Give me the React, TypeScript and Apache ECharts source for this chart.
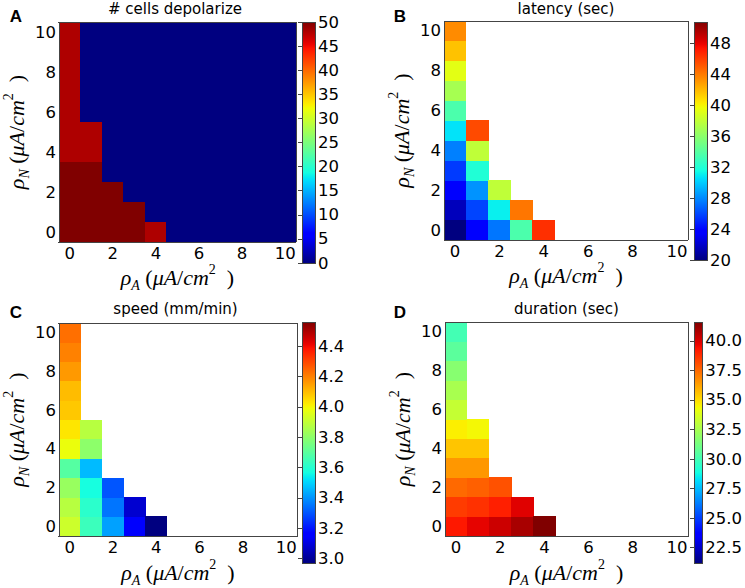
import React, { useEffect, useRef } from "react";
import * as echarts from "echarts";

// ---------- data (columns = rho_A 0..; values listed from rho_N = 0 upward) ----------
const axisCategories = ["0", "1", "2", "3", "4", "5", "6", "7", "8", "9", "10"];

const depolarizeCols: number[][] = [
  [50, 50, 50, 50, 48, 48, 48, 48, 48, 48, 48],
  [50, 50, 50, 50, 48, 48, 0, 0, 0, 0, 0],
  [50, 50, 50, 0, 0, 0, 0, 0, 0, 0, 0],
  [50, 50, 0, 0, 0, 0, 0, 0, 0, 0, 0],
  [48, 0, 0, 0, 0, 0, 0, 0, 0, 0, 0],
  [0, 0, 0, 0, 0, 0, 0, 0, 0, 0, 0],
  [0, 0, 0, 0, 0, 0, 0, 0, 0, 0, 0],
  [0, 0, 0, 0, 0, 0, 0, 0, 0, 0, 0],
  [0, 0, 0, 0, 0, 0, 0, 0, 0, 0, 0],
  [0, 0, 0, 0, 0, 0, 0, 0, 0, 0, 0],
  [0, 0, 0, 0, 0, 0, 0, 0, 0, 0, 0],
];

const latencyCols: number[][] = [
  [20.0, 21.6, 23.4, 25.6, 27.7, 30.7, 33.6, 37.0, 39.3, 41.7, 43.5],
  [23.7, 25.9, 28.3, 32.0, 37.9, 45.6],
  [27.4, 31.1, 37.9],
  [33.6, 44.2],
  [46.5],
];

const speedCols: number[][] = [
  [3.92, 3.88, 3.82, 3.69, 3.98, 4.03, 4.08, 4.10, 4.16, 4.20, 4.23],
  [3.64, 3.61, 3.57, 3.46, 3.80, 3.88],
  [3.42, 3.35, 3.30],
  [3.15, 3.08],
  [2.97],
];

const durationCols: number[][] = [
  [39.25, 38.5, 37.5, 36.5, 35.5, 34.6, 33.2, 32.5, 31.7, 30.6, 30.0],
  [39.8, 38.7, 37.7, 36.5, 35.5, 34.4],
  [40.25, 39.1, 38.0],
  [40.9, 39.9],
  [41.6],
];

const titles = ["# cells depolarize", "latency (sec)", "speed (mm/min)", "duration (sec)"];
const letters = ["A", "B", "C", "D"];

const depolarizeRange = [0, 50];
const latencyRange = [20, 50.8];
const speedRange = [2.97, 4.56];
const durationRange = [21.2, 41.6];

const depolarizeTicks = [0, 5, 10, 15, 20, 25, 30, 35, 40, 45, 50];
const latencyTicks = [20, 24, 28, 32, 36, 40, 44, 48];
const speedTicks = [3.0, 3.2, 3.4, 3.6, 3.8, 4.0, 4.2, 4.4];
const durationTicks = [22.5, 25.0, 27.5, 30.0, 32.5, 35.0, 37.5, 40.0];

// ---------- jet colormap ----------
function interp(t: number, pts: number[][]) {
  for (let i = 1; i < pts.length; i++) {
    if (t <= pts[i][0]) {
      const [x0, y0] = pts[i - 1];
      const [x1, y1] = pts[i];
      return y0 + ((t - x0) / (x1 - x0)) * (y1 - y0);
    }
  }
  return pts[pts.length - 1][1];
}
function jet(t: number) {
  const r = interp(t, [[0, 0], [0.35, 0], [0.66, 1], [0.89, 1], [1, 0.5]]);
  const g = interp(t, [[0, 0], [0.125, 0], [0.375, 1], [0.64, 1], [0.91, 0], [1, 0]]);
  const b = interp(t, [[0, 0.5], [0.11, 1], [0.34, 1], [0.65, 0], [1, 0]]);
  const c = (v: number) => Math.round(Math.max(0, Math.min(1, v)) * 255);
  return `rgb(${c(r)},${c(g)},${c(b)})`;
}
const JET_N = 65;
const jetColors: string[] = [];
for (let i = 0; i < JET_N; i++) jetColors.push(jet(i / (JET_N - 1)));

function toCells(cols: number[][]) {
  const out: number[][] = [];
  cols.forEach((col, x) => col.forEach((v, y) => out.push([x, y, v])));
  return out;
}

// ---------- layout ----------
const plotBoxes = [
  { left: 54, top: 22, width: 242, height: 220 },
  { left: 444, top: 21, width: 244, height: 219 },
  { left: 54, top: 323, width: 243, height: 219 },
  { left: 445, top: 322, width: 243, height: 220 },
];
const barBoxes = [
  { left: 302, top: 22, width: 13, height: 241 },
  { left: 694, top: 22, width: 13, height: 238 },
  { left: 302, top: 322, width: 13, height: 241 },
  { left: 694, top: 322, width: 13, height: 241 },
];

const FONT = "DejaVu Sans";
const FRAME = "#444";

const nameRich = {
  i: { fontFamily: "Liberation Serif", fontStyle: "italic", fontSize: 22, lineHeight: 30, color: "#000" },
  n: { fontFamily: "Liberation Serif", fontSize: 22, lineHeight: 30, color: "#000" },
  s: { fontFamily: "Liberation Serif", fontStyle: "italic", fontSize: 14, lineHeight: 15, verticalAlign: "bottom", color: "#000" },
  p: { fontFamily: "Liberation Serif", fontSize: 14, lineHeight: 15, verticalAlign: "top", color: "#000" },
};
const xName = "{i|ρ}{s|A}{n| (}{i|μA}{n|/}{i|cm}{p|2}{n|  )}";
const yName = "{i|ρ}{s|N}{n| (}{i|μA}{n|/}{i|cm}{p|2}{n|  )}";

export default function App() {
  const ref = useRef<HTMLDivElement>(null);
  useEffect(() => {
    if (!ref.current) return;
    const chart = echarts.init(ref.current, null, { renderer: "svg" });

    const datasets = [depolarizeCols, latencyCols, speedCols, durationCols];
    const ranges = [depolarizeRange, latencyRange, speedRange, durationRange];
    const ticks = [depolarizeTicks, latencyTicks, speedTicks, durationTicks];
    const fmt = [
      (v: number) => String(v),
      (v: number) => String(v),
      (v: number) => v.toFixed(1),
      (v: number) => v.toFixed(1),
    ];

    const grids: any[] = [];
    const xAxes: any[] = [];
    const yAxes: any[] = [];
    const series: any[] = [];
    const visualMaps: any[] = [];
    const graphics: any[] = [];

    const tickStyle = { inside: true, length: 4, lineStyle: { color: FRAME, width: 1 } };
    const lineStyle = { show: true, lineStyle: { color: FRAME, width: 1 } };
    const labelStyle = { fontSize: 16.5, color: "#000", fontFamily: FONT };

    for (let p = 0; p < 4; p++) {
      grids.push({ ...plotBoxes[p], containLabel: false });
      xAxes.push({
        type: "category", gridIndex: p, data: axisCategories, position: "bottom", z: 5,
        axisLine: lineStyle,
        axisTick: { ...tickStyle, interval: 1, alignWithLabel: true },
        axisLabel: { ...labelStyle, interval: 1, margin: 3 },
        splitLine: { show: false },
        name: xName, nameLocation: "middle", nameGap: 19,
        nameTextStyle: { rich: nameRich },
      });
      xAxes.push({
        type: "category", gridIndex: p, data: axisCategories, position: "top", z: 5,
        axisLine: lineStyle,
        axisTick: { ...tickStyle, interval: 1, alignWithLabel: true },
        axisLabel: { show: false },
        splitLine: { show: false },
      });
      yAxes.push({
        type: "category", gridIndex: p, data: axisCategories, position: "left", z: 5,
        axisLine: lineStyle,
        axisTick: { ...tickStyle, interval: 1, alignWithLabel: true },
        axisLabel: { ...labelStyle, interval: 1, margin: 3 },
        splitLine: { show: false },
        name: yName, nameLocation: "middle", nameGap: 19, nameRotate: 90,
        nameTextStyle: { rich: nameRich },
      });
      yAxes.push({
        type: "category", gridIndex: p, data: axisCategories, position: "right", z: 5,
        axisLine: lineStyle,
        axisTick: { ...tickStyle, interval: 1, alignWithLabel: true },
        axisLabel: { show: false },
        splitLine: { show: false },
      });
      series.push({
        type: "heatmap",
        xAxisIndex: 2 * p,
        yAxisIndex: 2 * p,
        data: toCells(datasets[p]),
        itemStyle: { borderWidth: 0 },
        emphasis: { disabled: true },
      });
      visualMaps.push({
        type: "continuous", show: false, seriesIndex: p, dimension: 2,
        min: ranges[p][0], max: ranges[p][1],
        inRange: { color: jetColors },
      });
      const pb = plotBoxes[p];
      graphics.push({
        type: "text", x: pb.left + pb.width / 2, y: p < 2 ? 9 : 309,
        style: {
          text: titles[p], font: `15px "${FONT}"`, fill: "#000",
          align: "center", verticalAlign: "middle", textAlign: "center", textVerticalAlign: "middle",
        },
      });
      graphics.push({
        type: "text", x: p % 2 === 0 ? 16 : 400, y: p < 2 ? 16 : 312,
        style: {
          text: letters[p], font: `bold 17px "Liberation Sans"`, fill: "#000",
          align: "center", verticalAlign: "middle", textAlign: "center", textVerticalAlign: "middle",
        },
      });
    }

    const stops = jetColors.map((c, i) => ({ offset: i / (JET_N - 1), color: c }));
    for (let p = 0; p < 4; p++) {
      const gi = 4 + p;
      grids.push({
        ...barBoxes[p], show: true, borderColor: FRAME, borderWidth: 1,
        backgroundColor: new echarts.graphic.LinearGradient(0, 1, 0, 0, stops),
      });
      xAxes.push({ type: "value", gridIndex: gi, show: false, min: 0, max: 1 });
      yAxes.push({
        type: "value", gridIndex: gi, position: "right",
        min: ranges[p][0], max: ranges[p][1],
        axisLine: { show: false },
        axisTick: { ...tickStyle, customValues: ticks[p] },
        axisLabel: { ...labelStyle, margin: 3, customValues: ticks[p], formatter: fmt[p] },
        splitLine: { show: false },
      });
    }

    chart.setOption({
      animation: false,
      backgroundColor: "#fff",
      grid: grids,
      xAxis: xAxes,
      yAxis: yAxes,
      visualMap: visualMaps,
      series,
      graphic: graphics,
    });
    return () => chart.dispose();
  }, []);

  return (
    <>
      <style>{"#root path { shape-rendering: crispEdges; }"}</style>
      <div
        ref={ref}
        style={{ position: "absolute", left: 0, top: 0, width: 745, height: 588 }}
      />
    </>
  );
}
